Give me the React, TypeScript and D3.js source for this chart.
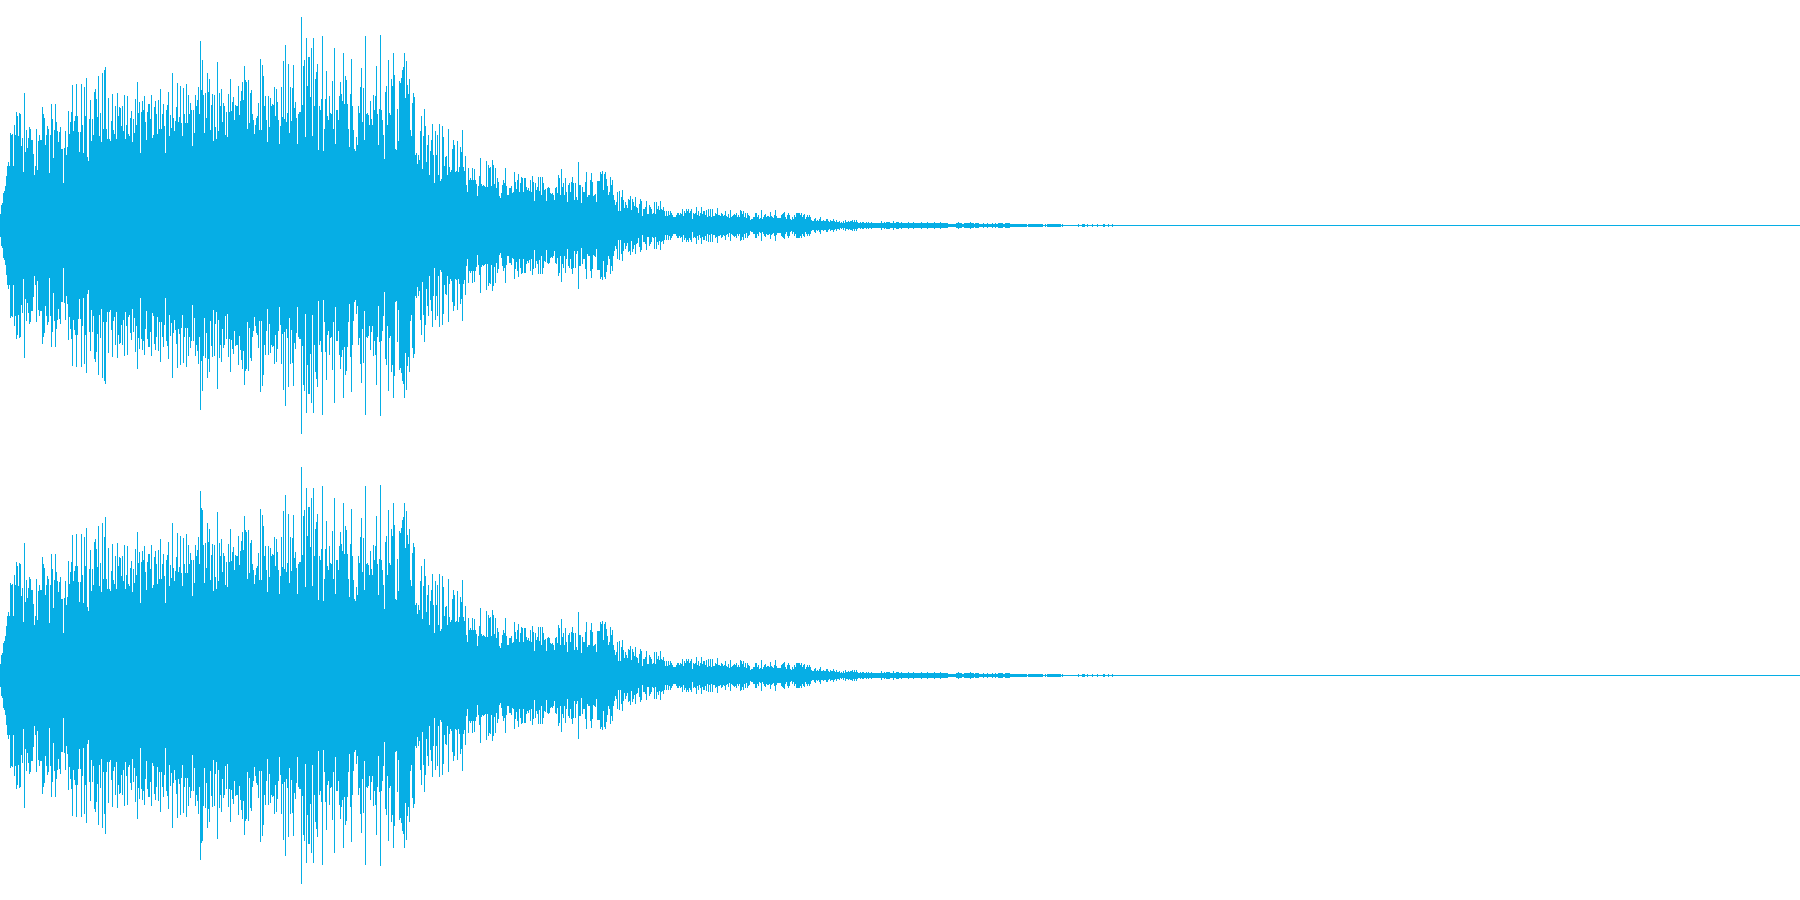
import React from "react";
import * as d3 from "d3";

// Peak amplitude of each sample column.
const attack = [11,20,22,32,34,39,49,59,63,59,92,90,91,59,100,90,113,109,89,112,111,79,87,53,132,73,95,77,87,98,96,85,85,71,50,59,96,55,84,90,85,85,118,111,107,80,90,99,96,52,90,121,106,67,95,121,103,94,83,93,98,76,76,42,77,94,70,78,114,91,103,113,140,94,104,109,141,109,93,73,93,141,100,72,138,109,147,68,64,106,125,84,106,90,133,136,126,108,149,89];
const swellA = [112,83,152,96,155,158,96,86,127,86,84,104,131,95,91,119,86,132,109,118,117,99,119,94,130,86,100,129,91,89,107,114,83,106,92,126,100,143,112,123,72,113,124,115,129,103,85,113,121,121,106,130,87,90,118,124,111,91,125,96,136,96,111,121,99,72,115,120,133,89,110,97,152,107,94,104,118,142,103,108,139,102,89,137,111,102,141,102,130,111,122,115,79,115,92,130,119,125,138,111];
const swellB = [184,135,165,130,92,132,107,152,133,146,95,120,131,84,130,98,86,163,94,132,119,136,103,122,119,90,113,88,131,113,146,114,123,128,105,120,119,119,139,110,124,134,143,125,159,145,143,96,145,102,132,135,111,105,91,100,107,109,122,95,166,95,160,149,119,129,105,83,129,98,127,119,121,120,138,109,136,123,105,81,99,138,108,164,106,180,103,112,161,92,138,104,137,160,117,123,107,81,111,113];
const sustain = [113,208,120,159,165,88,187,139,168,168,128,177,89,187,119,146,153,161,75,119,115,126,189,74,96,126,154,109,105,129,112,111,144,96,177,81,115,115,105,129,143,131,124,172,121,149,145,121,96,78,131,166,119,95,76,74,88,80,119,112,138,157,103,137,85,189,111,112,110,100,124,106,100,130,115,129,159,111,80,116,190,115,105,90,66,133,139,100,165,112,110,146,139,172,150,76,75,116,84,144,142,147,155,158,172,127,164,140,131,146,95,89,122,132,128];
const decayA = [70,72,61,70,65,94,109,56,89,116,99,63,80,90,50,74,85,101,70,42,94,70,90,50,101,44,46,99,88,59,68,69,50,96,58,53,55,76,85,80,53,54,84,53,58,78,73,95,58,54,69,40,33,57,45,47,45,57,45,56,45,41,29,39,49,67,41,39,40,39,38,64,38,60,57,58,39,65,60,41,57,37,47,43,29,27,32,40,45,42,57,39,30,30,37,37,39,32,33,53,43,36,45,51,33,42,48,47,33,47,47,38,35,37,34,45,33,49,43,24,42,35,38,48,34,48,30,48,42,35,36,24,37,38,37,32,31,32,30,25,37,38,32,50,47,30,56,38,42,30,47,33,23,40,42,33,43,48,42,25,42,28,25,63,40,40,22,38,33,33,43,53,28,30,30,45,52,43,29,30,31,23];
const decayB = [44,44,44,53,51,54,35,51,53,46,39,30,33,48,40,45,30,25,20,23,33,14,34,14,28,35,25,17,23,20,17,26,25,29,15,26,23,19,28,18,17,12,21,26,24,9,16,16,18,24,11,11,20,18,16,11,12,23,11,23,16,19,15];
const fadeA = [24,16,15,18,14,9,14,9,14,10,14,12,10,8,8,8,10,12,12,10,12,11,16,9,14,12,16,14,16,12,14,16,6,12,11,12,18,10,14,9,12,18,11,14,14,10,15,8,16,9,16,8,16,9,9,12,11,17,10,10,9,12,11,9,10,14,9,8,11,7,15,8,9,10,11,10,12,8,10,8,15,14,11,14,8,12,7,12,10,9];
const fadeB = [5,6,6,8,8,12,12,8,10,6,7,15,6,8,10,11,8,9,9,8,13,9,8,7,10,15,9,7,7,7,7,10,11,12,13,8,6,10,12,10,6,5,8,6,10,8,12,12,12,12,10,12,8,10,11,6,8,10,8,10,8,5,4,4,6,7,4,5,4,6,8,4,4,5,4,4,6,6,4,3,5,4,4,6,4,3,5,3,3,4];
const fadeC = [2,3,2,4,2,5,3,3,4,3,4,4,5,3,5,3,5,3,2,2,3,2,3,3,2,2,3,2,3,2,2,3,2,2,2,2,2,2,2,2,2,4,2,2,3,2,3,3,3,3,2,2,2,4,2,2,3,3,3,2,2,3,2,2,2,2,2,2,3,2,2,2,2,3,2,2,2,2,2,2,2,3,2,2,2,2,2,3,2,2,2,2,2,2,3,2,2,2,2,2,3,2,2,2,2,2,2,2,1,1,1,1,1,1,1,1,2,2,3,2,2,2,1,1,2,2,2,2,2,2,3,2,2,2,1,2,2,2,2,1];
const tail = [1,1,1,2,1,1,1,2,1,1,1,1,2,1,1,2,1,1,2,2,2,2,2,1,1,2,2,2,2,2,1,1,1,1,1,1,1,1,1,1,1,1,1,1,1,1,1,0,1,1,1,1,1,1,1,1,1,1,1,1,1,1,1,0,0,1,0,1,1,1,1,1,1,1,1,1,1,1,1,1,1,0,1,0,0,0,0,0,0,0,0,0,0,0,0,0,0,0,1,0,0,0,1,1,1,0,0,1,0,0,0,0,1,0,0,0,0,1,0,0,0,0,0,1,1,0,0,0,1,0,0,0,1];

const segments: [number, number[]][] = [
  [0, attack], [100, swellA], [200, swellB], [300, sustain], [415, decayA],
  [597, decayB], [660, fadeA], [750, fadeB], [840, fadeC], [980, tail],
];
const leftPeaks: number[] = [];
segments.forEach(([start, values]) => values.forEach((v, i) => { leftPeaks[start + i] = v; }));

// The lower channel is the same take apart from a few columns.
const rightChanges = new Map([[104, 138], [201, 167]]);
const rightPeaks = Array.from(leftPeaks, (v, i) => rightChanges.get(i) ?? v);

const channels = [leftPeaks, rightPeaks];
const COLUMNS = 1800;
const WIDTH = 1800;
const CHANNEL_HEIGHT = 450;
const COLOR = "#06aee5";

export default function App() {
  const x = d3.scaleLinear().domain([0, COLUMNS]).range([0, WIDTH]);
  const y = d3.scaleLinear().domain([225, -225]).range([0, CHANNEL_HEIGHT]);
  const columns = d3.range(COLUMNS);
  return (
    <svg
      width={WIDTH}
      height={900}
      style={{ position: "absolute", left: 0, top: 0, background: "#fff" }}
      shapeRendering="crispEdges"
    >
      {channels.map((peaks, c) => {
        const path = d3.path();
        columns.forEach((i) => {
          const amp = peaks[i] ?? 0;
          path.rect(x(i), y(amp), x(i + 1) - x(i), y(-amp) - y(amp) + 1);
        });
        return (
          <path
            key={c}
            transform={`translate(0,${c * CHANNEL_HEIGHT})`}
            d={path.toString()}
            fill={COLOR}
          />
        );
      })}
    </svg>
  );
}
